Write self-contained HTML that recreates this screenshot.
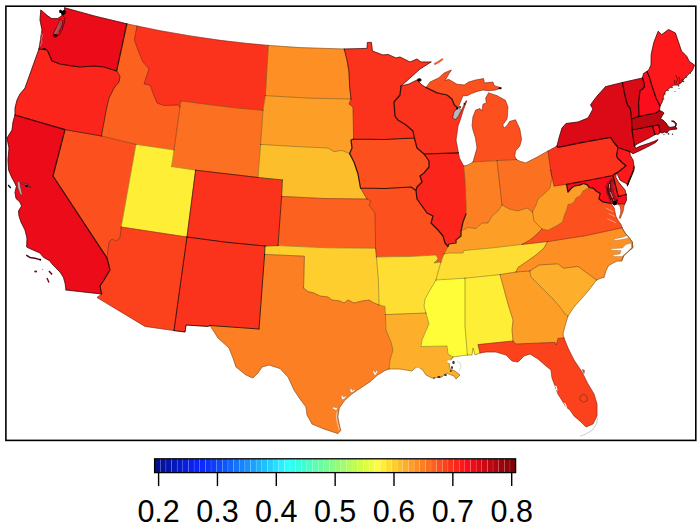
<!DOCTYPE html><html><head><meta charset="utf-8"><style>html,body{margin:0;padding:0;background:#fff}svg{display:block}text{font-family:"Liberation Sans",sans-serif}</style></head><body>
<svg width="700" height="532" viewBox="0 0 700 532">
<rect width="700" height="532" fill="#fff"/>
<g stroke-linejoin="round" stroke-width="0.5">
<polygon points="39.0,49.0 40.0,43.0 41.0,36.0 42.0,30.0 40.0,20.0 40.8,9.9 47.3,15.6 51.6,18.6 57.7,18.6 60.0,17.0 62.0,15.5 64.6,14.0 64.6,7.8 96.0,16.4 126.8,23.8 116.6,71.0 104.0,67.0 94.0,66.0 80.0,67.0 70.0,65.6 60.0,64.0 52.0,61.0 49.0,54.0 47.0,50.0" fill="#ec0b19" stroke="#ec0b19"/>
<polygon points="39.0,49.0 35.0,60.0 30.0,74.0 25.0,88.0 20.0,94.0 17.0,100.0 15.0,108.0 15.0,115.0 65.0,129.6 101.4,136.0 107.0,106.0 109.0,98.0 114.0,88.0 119.0,82.0 120.0,76.0 116.6,71.0 104.0,67.0 94.0,66.0 80.0,67.0 70.0,65.6 60.0,64.0 52.0,61.0 49.0,54.0 47.0,50.0" fill="#fc251c" stroke="#fc251c"/>
<polygon points="15.0,115.0 13.0,122.0 12.0,130.0 7.0,138.0 9.0,148.0 8.0,160.0 8.6,170.0 12.0,178.0 14.3,182.0 16.4,186.4 15.0,192.5 16.0,198.5 19.9,202.0 21.6,206.0 18.5,211.0 19.0,216.0 21.0,222.0 25.0,230.0 27.0,238.0 26.7,247.0 32.0,249.5 40.0,253.0 43.5,257.3 49.6,260.7 53.0,265.0 55.6,267.7 60.0,272.0 63.4,277.2 65.1,283.2 66.0,290.0 101.6,294.0 100.0,286.0 104.0,280.0 110.0,270.0 107.0,258.0 53.0,176.0 65.0,129.6" fill="#ec0b19" stroke="#ec0b19"/>
<polygon points="65.0,129.6 101.4,136.0 136.0,144.4 121.2,227.0 120.0,238.0 116.0,241.0 112.0,239.0 109.0,242.0 107.0,258.0 53.0,176.0" fill="#fc511e" stroke="#fc511e"/>
<polygon points="126.8,23.8 137.0,26.0 134.4,40.0 138.0,50.0 143.0,62.0 149.0,69.0 146.0,78.0 144.0,84.0 150.0,85.0 153.0,93.0 157.0,103.0 164.0,105.5 178.0,105.0 180.0,107.0 174.0,150.0 136.0,144.4 101.4,136.0 107.0,106.0 109.0,98.0 114.0,88.0 119.0,82.0 120.0,76.0 116.6,71.0" fill="#fc6120" stroke="#fc6120"/>
<polygon points="137.0,26.0 160.0,30.7 190.0,35.9 220.0,40.3 245.0,43.2 268.4,45.4 265.4,95.6 263.0,110.3 240.0,108.3 220.0,106.0 181.0,101.0 180.0,107.0 178.0,105.0 164.0,105.5 157.0,103.0 153.0,93.0 150.0,85.0 144.0,84.0 146.0,78.0 149.0,69.0 143.0,62.0 138.0,50.0 134.4,40.0" fill="#fc331c" stroke="#fc331c"/>
<polygon points="181.0,101.0 220.0,106.0 240.0,108.3 263.0,110.3 260.6,144.4 258.0,177.5 195.6,170.2 171.6,166.6 174.0,150.0 180.0,107.0" fill="#fc7021" stroke="#fc7021"/>
<polygon points="136.0,144.4 174.0,150.0 171.6,166.6 195.6,170.2 187.0,237.0 121.2,227.0" fill="#feee35" stroke="#feee35"/>
<polygon points="121.2,227.0 187.0,237.0 174.0,330.6 145.0,326.4 97.0,297.5 101.6,294.0 100.0,286.0 104.0,280.0 110.0,270.0 107.0,258.0 109.0,242.0 112.0,239.0 116.0,241.0 120.0,238.0" fill="#fc421d" stroke="#fc421d"/>
<polygon points="187.0,237.0 226.0,242.2 265.0,246.0 264.6,254.4 259.0,329.0 210.0,325.5 208.0,326.4 186.0,325.0 185.0,332.0 174.0,330.6" fill="#fc331c" stroke="#fc331c"/>
<polygon points="195.6,170.2 258.0,177.5 282.4,180.0 281.6,196.4 278.0,245.6 265.0,246.0 226.0,242.2 187.0,237.0" fill="#fc331c" stroke="#fc331c"/>
<polygon points="268.4,45.4 300.0,47.6 344.2,49.0 347.0,60.0 349.0,72.0 349.6,86.0 351.0,99.0 308.0,98.1 265.4,95.6" fill="#fd8f25" stroke="#fd8f25"/>
<polygon points="265.4,95.6 308.0,98.1 351.0,99.0 349.0,104.0 353.0,107.0 353.6,139.0 351.0,140.0 352.0,148.0 349.6,153.6 342.0,150.4 334.0,151.6 328.0,148.0 295.0,146.5 260.6,144.4 263.0,110.3" fill="#fd9f27" stroke="#fd9f27"/>
<polygon points="260.6,144.4 295.0,146.5 328.0,148.0 334.0,151.6 342.0,150.4 349.6,153.6 354.0,162.0 358.0,174.0 360.5,188.0 364.0,194.0 367.0,199.0 324.0,198.5 281.6,196.4 282.4,180.0 258.0,177.5" fill="#fdbe2c" stroke="#fdbe2c"/>
<polygon points="281.6,196.4 324.0,198.5 367.0,199.0 371.0,201.0 369.0,205.0 375.0,213.0 375.6,248.2 327.0,247.8 278.0,245.6" fill="#fc6120" stroke="#fc6120"/>
<polygon points="265.0,246.0 278.0,245.6 327.0,247.8 375.6,248.2 376.4,257.0 378.4,280.0 379.0,305.0 374.0,303.0 369.0,300.0 362.0,301.0 354.0,303.0 348.0,300.0 344.0,303.0 340.0,301.0 332.0,300.0 328.0,297.0 320.0,296.0 314.0,293.0 308.0,291.6 303.6,288.0 304.4,256.2 264.6,254.4" fill="#fece2f" stroke="#fece2f"/>
<polygon points="264.6,254.4 304.4,256.2 303.6,288.0 308.0,291.6 314.0,293.0 320.0,296.0 328.0,297.0 332.0,300.0 340.0,301.0 344.0,303.0 348.0,300.0 354.0,303.0 362.0,301.0 369.0,300.0 374.0,303.0 379.0,305.0 385.0,306.4 385.4,314.6 386.0,330.0 391.0,342.0 393.0,350.0 390.0,360.0 389.0,369.0 385.0,370.5 377.6,375.0 370.0,381.8 361.0,387.8 352.0,393.8 344.5,400.6 339.3,408.0 337.8,417.0 339.3,424.6 340.8,430.6 337.8,433.6 324.0,429.0 312.0,424.0 307.0,415.0 306.0,407.0 300.0,399.0 294.0,390.0 288.0,377.0 280.0,368.5 269.0,365.0 262.0,367.0 258.0,373.0 253.0,378.0 246.0,375.0 236.0,367.0 233.0,358.0 229.0,348.0 218.0,338.0 210.0,325.5 259.0,329.0" fill="#fc8023" stroke="#fc8023"/>
<polygon points="344.2,49.0 367.0,48.4 367.4,42.4 371.4,42.4 372.4,51.0 383.0,55.0 388.0,54.4 396.0,58.0 400.0,57.0 410.0,62.0 417.0,59.0 421.0,62.0 431.0,62.0 420.0,69.0 410.0,78.0 401.0,86.0 400.0,95.0 394.0,102.0 395.0,116.0 398.0,120.0 406.0,125.0 413.0,131.0 414.4,138.0 384.0,139.5 353.6,139.0 353.0,107.0 349.0,104.0 351.0,99.0 349.6,86.0 349.0,72.0 347.0,60.0" fill="#fc331c" stroke="#fc331c"/>
<polygon points="353.6,139.0 384.0,139.5 414.4,138.0 417.0,148.0 424.0,154.0 429.0,161.0 429.0,167.0 424.0,173.0 420.0,176.0 422.0,182.0 417.0,187.0 416.0,190.5 411.0,187.0 385.0,188.5 360.5,188.0 358.0,174.0 354.0,162.0 349.6,153.6 352.0,148.0 351.0,140.0" fill="#fc511e" stroke="#fc511e"/>
<polygon points="360.5,188.0 385.0,188.5 411.0,187.0 416.0,190.5 417.0,199.0 422.0,206.0 427.0,213.0 433.0,216.0 431.0,223.0 438.0,230.0 443.0,236.0 445.0,243.0 448.0,246.5 444.0,254.0 441.0,262.0 434.0,263.0 438.0,259.0 436.0,255.0 410.0,256.5 376.4,257.0 375.6,248.2 375.0,213.0 369.0,205.0 371.0,201.0 367.0,199.0 364.0,194.0" fill="#fc511e" stroke="#fc511e"/>
<polygon points="376.4,257.0 410.0,256.5 436.0,255.0 438.0,259.0 434.0,263.0 441.0,262.0 438.0,272.0 436.0,280.0 430.0,290.0 425.0,299.0 424.0,306.0 426.0,313.0 385.4,314.6 385.0,306.4 379.0,305.0 378.4,280.0" fill="#fede32" stroke="#fede32"/>
<polygon points="385.4,314.6 426.0,313.0 429.0,324.0 425.0,333.0 422.0,340.0 421.0,346.5 447.0,346.0 448.0,354.0 453.0,357.0 449.0,363.0 450.0,369.0 455.0,371.0 460.0,375.0 456.0,379.0 454.0,376.0 446.0,373.0 442.0,377.0 432.0,378.0 426.0,375.0 422.0,369.0 415.0,368.0 412.0,371.0 400.0,369.0 389.0,369.0 390.0,360.0 393.0,350.0 391.0,342.0 386.0,330.0" fill="#fdae2a" stroke="#fdae2a"/>
<polygon points="401.0,86.0 409.0,84.0 417.0,80.0 422.0,85.0 426.0,87.5 437.1,92.9 447.1,95.0 452.1,99.3 454.3,105.0 457.9,107.9 454.0,112.0 452.7,118.0 455.5,119.5 458.5,116.0 462.0,109.0 466.0,100.8 466.8,101.0 463.3,110.0 460.5,119.0 458.0,126.0 456.0,140.0 458.4,152.8 424.0,154.0 417.0,148.0 414.4,138.0 413.0,131.0 406.0,125.0 398.0,120.0 395.0,116.0 394.0,102.0 400.0,95.0" fill="#fc331c" stroke="#fc331c"/>
<polygon points="424.0,154.0 458.4,152.8 459.4,158.0 463.6,166.0 465.0,180.0 466.0,204.0 466.0,214.0 463.0,222.0 461.0,231.0 461.0,236.0 456.0,240.0 456.0,243.0 449.0,244.0 448.0,246.5 445.0,243.0 443.0,236.0 438.0,230.0 431.0,223.0 433.0,216.0 427.0,213.0 422.0,206.0 417.0,199.0 416.0,190.5 417.0,187.0 422.0,182.0 420.0,176.0 424.0,173.0 429.0,167.0 429.0,161.0" fill="#fc251c" stroke="#fc251c"/>
<polygon points="426.0,87.5 430.0,82.1 438.6,77.9 444.3,72.9 451.4,70.0 448.6,74.3 445.0,80.7 448.6,79.3 457.1,84.3 464.3,85.0 468.6,82.1 475.7,80.0 483.6,78.6 484.3,82.9 492.9,82.1 494.3,85.7 501.4,87.9 495.7,90.0 488.6,90.7 482.9,90.0 477.1,91.4 471.4,93.6 467.1,95.7 462.9,95.7 460.7,101.4 457.9,107.9 454.3,105.0 452.1,99.3 447.1,95.0 437.1,92.9" fill="#fc511e" stroke="#fc511e"/>
<polygon points="488.6,92.9 497.1,95.7 505.4,100.3 507.9,107.0 507.5,114.0 507.0,119.0 502.8,124.8 503.7,128.2 507.0,125.7 509.6,121.5 515.5,119.8 519.8,129.0 521.5,139.2 519.8,146.0 515.5,151.0 514.7,156.1 516.4,159.5 497.0,160.6 473.0,162.0 477.0,148.0 475.5,138.0 473.0,130.0 472.1,125.7 472.9,117.1 475.7,110.0 480.0,108.5 482.0,111.0 483.0,104.2 486.4,102.9 485.7,97.9" fill="#fc511e" stroke="#fc511e"/>
<polygon points="473.0,162.0 497.0,160.6 502.0,205.0 498.0,211.0 492.0,216.0 488.0,223.0 482.0,223.0 476.0,228.5 468.0,227.5 461.0,231.0 463.0,222.0 466.0,214.0 466.0,204.0 465.0,180.0 463.6,166.0 468.0,165.0" fill="#fc8023" stroke="#fc8023"/>
<polygon points="497.0,160.6 516.4,159.5 520.6,161.5 525.7,162.9 535.8,157.8 548.0,151.0 550.6,170.0 552.0,178.0 550.0,188.0 544.0,194.0 538.0,199.0 536.0,205.0 532.5,212.0 527.0,208.0 518.0,211.0 509.0,209.0 502.0,205.0" fill="#fc7021" stroke="#fc7021"/>
<polygon points="461.0,231.0 468.0,227.5 476.0,228.5 482.0,223.0 488.0,223.0 492.0,216.0 498.0,211.0 502.0,205.0 509.0,209.0 518.0,211.0 527.0,208.0 532.5,212.0 534.0,221.0 539.0,226.0 542.0,229.0 536.0,235.0 530.0,240.0 522.0,244.4 493.0,247.8 464.0,250.5 463.0,253.0 449.0,253.0 444.0,254.0 448.0,246.5 449.0,244.0 456.0,243.0 456.0,240.0 461.0,236.0" fill="#fd9f27" stroke="#fd9f27"/>
<polygon points="444.0,254.0 449.0,253.0 463.0,253.0 464.0,250.5 493.0,247.8 522.0,244.4 547.4,241.6 544.0,248.0 536.0,255.0 526.0,262.0 518.0,267.5 516.0,272.0 500.0,274.6 465.0,278.2 436.0,280.0 438.0,272.0 441.0,262.0" fill="#fede32" stroke="#fede32"/>
<polygon points="436.0,280.0 465.0,278.2 465.0,326.0 467.4,355.0 460.0,356.0 453.0,357.0 448.0,354.0 447.0,346.0 421.0,346.5 422.0,340.0 425.0,333.0 429.0,324.0 426.0,313.0 424.0,306.0 425.0,299.0 430.0,290.0" fill="#fefd38" stroke="#fefd38"/>
<polygon points="465.0,278.2 500.0,274.6 508.0,304.0 513.0,320.0 512.0,330.0 513.0,341.0 478.0,344.6 480.0,353.0 475.0,355.0 473.0,348.0 472.0,355.0 467.4,355.0 465.0,326.0" fill="#feee35" stroke="#feee35"/>
<polygon points="500.0,274.6 516.0,272.0 529.8,271.0 531.0,277.0 538.0,284.0 546.0,292.0 554.0,300.0 560.0,307.0 565.0,314.0 568.0,316.0 565.0,326.0 563.0,334.0 564.0,338.0 558.0,338.4 556.4,345.0 555.0,342.4 516.0,344.0 513.0,341.0 512.0,330.0 513.0,320.0 508.0,304.0" fill="#fd9f27" stroke="#fd9f27"/>
<polygon points="513.0,341.0 516.0,344.0 555.0,342.4 556.4,345.0 558.0,338.4 564.0,338.0 568.0,348.0 574.0,360.0 582.0,372.0 588.0,384.0 594.0,394.0 597.0,404.0 597.0,416.0 593.0,424.0 586.0,427.0 581.0,422.0 574.0,416.0 570.0,410.0 566.0,407.0 563.0,402.0 558.0,394.0 555.0,386.0 552.0,378.0 551.0,370.0 546.0,366.0 538.0,359.0 530.0,354.0 524.0,356.0 518.0,362.0 512.0,361.0 506.0,355.0 496.0,352.0 486.0,352.0 480.0,353.0 478.0,344.6" fill="#fc421d" stroke="#fc421d"/>
<polygon points="596.5,280.0 578.0,266.4 563.5,268.2 558.0,263.8 539.0,265.0 536.0,267.0 529.8,271.0 531.0,277.0 538.0,284.0 546.0,292.0 554.0,300.0 560.0,307.0 565.0,314.0 568.0,316.0 574.0,307.0 582.0,298.0 589.0,290.0" fill="#fdae2a" stroke="#fdae2a"/>
<polygon points="547.4,241.6 544.0,248.0 536.0,255.0 526.0,262.0 518.0,267.5 516.0,272.0 529.8,271.0 536.0,267.0 539.0,265.0 558.0,263.8 563.5,268.2 578.0,266.4 596.5,280.0 601.3,278.0 604.1,277.4 605.8,271.2 608.6,265.6 612.6,263.3 617.1,261.1 621.6,261.1 623.8,255.5 628.3,251.5 632.9,247.6 632.3,241.9 628.9,237.4 625.0,232.9 622.1,227.8 585.0,235.8" fill="#fd8f25" stroke="#fd8f25"/>
<polygon points="593.3,188.1 590.0,188.5 587.0,188.7 583.0,191.0 580.6,195.6 576.0,198.0 574.0,202.0 571.0,204.0 568.0,204.5 567.0,209.0 564.3,215.5 562.5,222.0 557.0,225.5 548.0,230.3 542.0,229.0 536.0,235.0 530.0,240.0 522.0,244.4 547.4,241.6 585.0,235.8 622.1,227.8 621.0,224.4 618.5,221.0 616.0,216.6 615.0,212.3 614.2,208.0 611.0,203.5 603.0,201.9 599.0,199.0 600.1,193.3 596.7,191.5" fill="#fc511e" stroke="#fc511e"/>
<polygon points="550.6,170.0 552.0,178.0 550.0,188.0 544.0,194.0 538.0,199.0 536.0,205.0 532.5,212.0 534.0,221.0 539.0,226.0 542.0,229.0 548.0,230.3 557.0,225.5 562.5,222.0 564.3,215.5 567.0,209.0 568.0,204.5 571.0,204.0 574.0,202.0 576.0,198.0 580.6,195.6 583.0,191.0 587.0,188.7 590.0,188.5 593.3,188.1 589.2,187.5 587.0,184.7 583.5,183.5 579.5,185.2 574.9,185.8 571.5,188.1 568.0,192.1 566.5,184.4 554.0,186.0" fill="#fd9f27" stroke="#fd9f27"/>
<polygon points="548.0,151.0 557.0,146.0 558.0,147.4 584.0,142.2 610.6,137.3 613.5,142.0 618.0,147.5 616.6,155.0 617.5,158.0 622.5,163.0 626.0,165.5 622.5,168.6 619.0,171.5 615.9,173.4 614.5,173.8 613.0,175.5 590.0,180.0 566.5,184.4 554.0,186.0 550.6,170.0" fill="#fc331c" stroke="#fc331c"/>
<polygon points="557.0,146.0 559.0,138.0 562.0,128.0 566.0,123.5 578.0,122.0 588.0,118.0 593.0,109.0 590.5,105.0 594.0,100.0 598.0,95.0 605.5,86.7 622.5,82.5 624.0,91.0 626.0,100.0 627.5,105.0 630.0,108.0 631.0,113.0 631.5,119.0 632.0,130.0 634.5,146.0 636.0,148.3 640.0,146.3 649.0,143.3 655.0,141.0 658.0,139.5 656.0,142.3 650.0,145.5 640.0,150.5 633.0,153.7 630.0,151.6 618.0,147.5 613.5,142.0 610.6,137.3 584.0,142.2 558.0,147.4" fill="#dc0a16" stroke="#dc0a16"/>
<polygon points="618.0,147.5 630.0,151.6 630.0,155.0 633.0,160.0 634.0,166.0 633.6,170.1 631.6,175.1 629.1,180.9 627.4,185.9 627.0,183.8 623.3,182.1 620.0,180.1 617.5,174.3 615.9,173.4 619.0,171.5 622.5,168.6 626.0,165.5 622.5,163.0 617.5,158.0 616.6,155.0" fill="#fc181b" stroke="#fc181b"/>
<polygon points="613.0,175.5 614.5,173.8 615.9,173.4 615.9,177.6 618.3,181.7 620.8,185.0 625.0,190.0 626.2,194.5 618.3,196.6" fill="#fc331c" stroke="#fc331c"/>
<polygon points="566.5,184.4 590.0,180.0 613.0,175.5 618.3,196.6 626.2,194.5 626.5,200.1 624.5,204.3 618.0,204.1 616.5,199.0 613.5,193.3 612.5,186.4 613.3,179.5 612.2,178.3 608.5,181.2 606.0,186.4 606.5,192.1 609.0,198.0 611.0,203.5 603.0,201.9 599.0,199.0 600.1,193.3 596.7,191.5 593.3,188.1 589.2,187.5 587.0,184.7 583.5,183.5 579.5,185.2 574.9,185.8 571.5,188.1 568.0,192.1" fill="#fc0d1b" stroke="#fc0d1b"/>
<polygon points="632.0,130.0 652.5,126.0 655.0,134.5 649.0,138.0 643.0,141.0 637.0,144.0 634.5,146.0" fill="#dc0a16" stroke="#dc0a16"/>
<polygon points="652.5,126.0 658.5,125.0 659.5,128.5 660.0,132.0 659.0,134.0 655.0,134.5" fill="#fc0d1b" stroke="#fc0d1b"/>
<polygon points="631.5,119.0 639.0,116.3 656.0,113.0 659.5,110.5 662.0,111.5 664.0,113.0 662.0,116.0 660.5,119.0 663.0,120.0 666.0,123.0 668.0,126.0 670.0,127.5 673.0,127.0 676.0,126.0 676.5,123.5 674.0,121.0 671.5,121.0 674.0,122.0 675.5,124.0 675.5,126.5 677.0,129.0 672.0,129.5 669.0,130.0 667.0,133.0 664.5,132.0 662.0,133.0 660.0,132.0 659.5,128.5 658.5,125.0 652.5,126.0 632.0,130.0" fill="#bd0711" stroke="#bd0711"/>
<polygon points="622.5,82.5 642.5,78.0 644.0,83.0 644.5,86.5 642.0,89.5 640.0,90.5 639.5,95.0 638.5,103.0 639.0,116.3 631.5,119.0 631.0,113.0 630.0,108.0 627.5,105.0 626.0,100.0 624.0,91.0" fill="#dc0a16" stroke="#dc0a16"/>
<polygon points="642.5,78.0 643.5,73.5 647.0,71.5 649.0,76.0 652.0,86.0 656.0,98.0 659.0,104.0 660.0,106.0 659.5,110.5 656.0,113.0 639.0,116.3 638.5,103.0 639.5,95.0 640.0,90.5 642.0,89.5 644.5,86.5 644.0,83.0" fill="#fc0d1b" stroke="#fc0d1b"/>
<polygon points="647.0,71.5 649.0,69.5 651.0,65.0 651.2,54.6 653.8,42.5 658.2,31.2 661.6,34.7 668.5,29.5 675.4,33.0 681.5,51.1 686.7,56.3 689.3,61.5 694.5,65.0 692.4,70.5 688.2,74.6 684.1,78.8 681.0,82.9 676.9,85.0 673.8,85.0 669.6,88.0 665.5,91.2 663.4,96.3 662.4,101.5 660.0,106.0 659.0,104.0 656.0,98.0 652.0,86.0 649.0,76.0" fill="#fc181b" stroke="#fc181b"/>
</g>
<g fill="none" stroke="#000" stroke-linejoin="round" stroke-linecap="round">
<path d="M126.8,23.8 L137.0,26.0 M137.0,26.0 L160.0,30.7 L190.0,35.9 L220.0,40.3 L245.0,43.2 L268.4,45.4 M268.4,45.4 L300.0,47.6 L344.2,49.0 M101.4,136.0 L136.0,144.4 M136.0,144.4 L174.0,150.0 M174.0,150.0 L180.0,107.0 M137.0,26.0 L134.4,40.0 L138.0,50.0 L143.0,62.0 L149.0,69.0 L146.0,78.0 L144.0,84.0 L150.0,85.0 L153.0,93.0 L157.0,103.0 L164.0,105.5 L178.0,105.0 L180.0,107.0 M180.0,107.0 L181.0,101.0 M181.0,101.0 L220.0,106.0 L240.0,108.3 L263.0,110.3 M268.4,45.4 L265.4,95.6 M265.4,95.6 L263.0,110.3 M265.4,95.6 L308.0,98.1 L351.0,99.0 M263.0,110.3 L260.6,144.4 M260.6,144.4 L258.0,177.5 M195.6,170.2 L171.6,166.6 M171.6,166.6 L174.0,150.0 M136.0,144.4 L121.2,227.0 M107.0,258.0 L109.0,242.0 L112.0,239.0 L116.0,241.0 L120.0,238.0 L121.2,227.0 M121.2,227.0 L187.0,237.0 M101.6,294.0 L97.0,297.5 L145.0,326.4 L174.0,330.6 M281.6,196.4 L324.0,198.5 L367.0,199.0 M278.0,245.6 L327.0,247.8 L375.6,248.2 M264.6,254.4 L304.4,256.2 L303.6,288.0 M303.6,288.0 L308.0,291.6 L314.0,293.0 L320.0,296.0 L328.0,297.0 L332.0,300.0 L340.0,301.0 L344.0,303.0 L348.0,300.0 L354.0,303.0 L362.0,301.0 L369.0,300.0 L374.0,303.0 L379.0,305.0 M379.0,305.0 L378.4,280.0 L376.4,257.0 M376.4,257.0 L375.6,248.2 M375.6,248.2 L375.0,213.0 L369.0,205.0 L371.0,201.0 L367.0,199.0 M367.0,199.0 L364.0,194.0 L360.5,188.0 M349.6,153.6 L342.0,150.4 L334.0,151.6 L328.0,148.0 L295.0,146.5 L260.6,144.4 M353.6,139.0 L353.0,107.0 L349.0,104.0 L351.0,99.0 M376.4,257.0 L410.0,256.5 L436.0,255.0 L438.0,259.0 L434.0,263.0 L441.0,262.0 M441.0,262.0 L444.0,254.0 M444.0,254.0 L448.0,246.5 M444.0,254.0 L449.0,253.0 L463.0,253.0 L464.0,250.5 L493.0,247.8 L522.0,244.4 M461.0,231.0 L468.0,227.5 L476.0,228.5 L482.0,223.0 L488.0,223.0 L492.0,216.0 L498.0,211.0 L502.0,205.0 M502.0,205.0 L509.0,209.0 L518.0,211.0 L527.0,208.0 L532.5,212.0 M502.0,205.0 L497.0,160.6 M497.0,160.6 L473.0,162.0 M473.0,162.0 L468.0,165.0 L463.6,166.0 M463.6,166.0 L459.4,158.0 L458.4,152.8 M458.4,152.8 L456.0,140.0 L458.0,126.0 L460.5,119.0 L463.3,110.0 L466.8,101.0 L466.0,100.8 L462.0,109.0 L458.5,116.0 L455.5,119.5 L452.7,118.0 L454.0,112.0 L457.9,107.9 M426.0,87.5 L430.0,82.1 L438.6,77.9 L444.3,72.9 L451.4,70.0 L448.6,74.3 L445.0,80.7 L448.6,79.3 L457.1,84.3 L464.3,85.0 L468.6,82.1 L475.7,80.0 L483.6,78.6 L484.3,82.9 L492.9,82.1 L494.3,85.7 L501.4,87.9 L495.7,90.0 L488.6,90.7 L482.9,90.0 L477.1,91.4 L471.4,93.6 L467.1,95.7 L462.9,95.7 L460.7,101.4 L457.9,107.9 M488.6,92.9 L497.1,95.7 L505.4,100.3 L507.9,107.0 L507.5,114.0 L507.0,119.0 L502.8,124.8 L503.7,128.2 L507.0,125.7 L509.6,121.5 L515.5,119.8 L519.8,129.0 L521.5,139.2 L519.8,146.0 L515.5,151.0 L514.7,156.1 L516.4,159.5 M516.4,159.5 L497.0,160.6 M473.0,162.0 L477.0,148.0 L475.5,138.0 L473.0,130.0 L472.1,125.7 L472.9,117.1 L475.7,110.0 L480.0,108.5 L482.0,111.0 L483.0,104.2 L486.4,102.9 L485.7,97.9 L488.6,92.9 M516.4,159.5 L520.6,161.5 L525.7,162.9 L535.8,157.8 L548.0,151.0 M548.0,151.0 L557.0,146.0 M548.0,151.0 L550.6,170.0 M550.6,170.0 L554.0,186.0 M554.0,186.0 L566.5,184.4 M550.6,170.0 L552.0,178.0 L550.0,188.0 L544.0,194.0 L538.0,199.0 L536.0,205.0 L532.5,212.0 M532.5,212.0 L534.0,221.0 L539.0,226.0 L542.0,229.0 M542.0,229.0 L548.0,230.3 L557.0,225.5 L562.5,222.0 L564.3,215.5 L567.0,209.0 L568.0,204.5 L571.0,204.0 L574.0,202.0 L576.0,198.0 L580.6,195.6 L583.0,191.0 L587.0,188.7 L590.0,188.5 L593.3,188.1 M542.0,229.0 L536.0,235.0 L530.0,240.0 L522.0,244.4 M522.0,244.4 L547.4,241.6 M547.4,241.6 L585.0,235.8 L622.1,227.8 M622.1,227.8 L621.0,224.4 L618.5,221.0 L616.0,216.6 L615.0,212.3 L614.2,208.0 L611.0,203.5 M547.4,241.6 L544.0,248.0 L536.0,255.0 L526.0,262.0 L518.0,267.5 L516.0,272.0 M516.0,272.0 L529.8,271.0 M529.8,271.0 L536.0,267.0 L539.0,265.0 L558.0,263.8 L563.5,268.2 L578.0,266.4 L596.5,280.0 M596.5,280.0 L601.3,278.0 L604.1,277.4 L605.8,271.2 L608.6,265.6 L612.6,263.3 L617.1,261.1 L621.6,261.1 L623.8,255.5 L628.3,251.5 L632.9,247.6 L632.3,241.9 L628.9,237.4 L625.0,232.9 L622.1,227.8 M529.8,271.0 L531.0,277.0 L538.0,284.0 L546.0,292.0 L554.0,300.0 L560.0,307.0 L565.0,314.0 L568.0,316.0 M568.0,316.0 L574.0,307.0 L582.0,298.0 L589.0,290.0 L596.5,280.0 M500.0,274.6 L516.0,272.0 M500.0,274.6 L508.0,304.0 L513.0,320.0 L512.0,330.0 L513.0,341.0 M513.0,341.0 L516.0,344.0 L555.0,342.4 L556.4,345.0 L558.0,338.4 L564.0,338.0 M564.0,338.0 L563.0,334.0 L565.0,326.0 L568.0,316.0 M465.0,278.2 L500.0,274.6 M465.0,278.2 L465.0,326.0 L467.4,355.0 M513.0,341.0 L478.0,344.6 L480.0,353.0 M480.0,353.0 L475.0,355.0 L473.0,348.0 L472.0,355.0 L467.4,355.0 M436.0,280.0 L465.0,278.2 M436.0,280.0 L430.0,290.0 L425.0,299.0 L424.0,306.0 L426.0,313.0 M426.0,313.0 L429.0,324.0 L425.0,333.0 L422.0,340.0 L421.0,346.5 L447.0,346.0 L448.0,354.0 L453.0,357.0 M453.0,357.0 L460.0,356.0 L467.4,355.0 M385.4,314.6 L426.0,313.0 M379.0,305.0 L385.0,306.4 L385.4,314.6 M441.0,262.0 L438.0,272.0 L436.0,280.0 M385.4,314.6 L386.0,330.0 L391.0,342.0 L393.0,350.0 L390.0,360.0 L389.0,369.0 M389.0,369.0 L400.0,369.0 L412.0,371.0 L415.0,368.0 L422.0,369.0 L426.0,375.0 L432.0,378.0 L442.0,377.0 L446.0,373.0 L454.0,376.0 L456.0,379.0 L460.0,375.0 L455.0,371.0 L450.0,369.0 L449.0,363.0 L453.0,357.0 M389.0,369.0 L385.0,370.5 L377.6,375.0 L370.0,381.8 L361.0,387.8 L352.0,393.8 L344.5,400.6 L339.3,408.0 L337.8,417.0 L339.3,424.6 L340.8,430.6 L337.8,433.6 M337.8,433.6 L324.0,429.0 L312.0,424.0 L307.0,415.0 L306.0,407.0 L300.0,399.0 L294.0,390.0 L288.0,377.0 L280.0,368.5 L269.0,365.0 L262.0,367.0 L258.0,373.0 L253.0,378.0 L246.0,375.0 L236.0,367.0 L233.0,358.0 L229.0,348.0 L218.0,338.0 L210.0,325.5 M564.0,338.0 L568.0,348.0 L574.0,360.0 L582.0,372.0 L588.0,384.0 L594.0,394.0 L597.0,404.0 L597.0,416.0 L593.0,424.0 L586.0,427.0 L581.0,422.0 L574.0,416.0 L570.0,410.0 L566.0,407.0 L563.0,402.0 L558.0,394.0 L555.0,386.0 L552.0,378.0 L551.0,370.0 L546.0,366.0 L538.0,359.0 L530.0,354.0 L524.0,356.0 L518.0,362.0 L512.0,361.0 L506.0,355.0 L496.0,352.0 L486.0,352.0 L480.0,353.0 M466,214 L466,204 L465,180 L463.6,166" stroke-width="0.55" stroke-opacity="0.55"/>
<path d="" stroke-width="0.70" stroke-opacity="0.60"/>
<path d="M39.0,49.0 L35.0,60.0 L30.0,74.0 L25.0,88.0 L20.0,94.0 L17.0,100.0 L15.0,108.0 L15.0,115.0 M116.6,71.0 L120.0,76.0 L119.0,82.0 L114.0,88.0 L109.0,98.0 L107.0,106.0 L101.4,136.0 M65.0,129.6 L101.4,136.0 M258.0,177.5 L195.6,170.2 M187.0,237.0 L195.6,170.2 M265.0,246.0 L278.0,245.6 M278.0,245.6 L281.6,196.4 M281.6,196.4 L282.4,180.0 M282.4,180.0 L258.0,177.5 M351.0,99.0 L349.6,86.0 L349.0,72.0 L347.0,60.0 L344.2,49.0" stroke-width="0.85" stroke-opacity="0.70"/>
<path d="M39.0,49.0 L40.0,43.0 L41.0,36.0 L42.0,30.0 L40.0,20.0 L40.8,9.9 L47.3,15.6 L51.6,18.6 L57.7,18.6 L60.0,17.0 L62.0,15.5 L64.6,14.0 L64.6,7.8 M64.6,7.8 L96.0,16.4 L126.8,23.8 M15.0,115.0 L13.0,122.0 L12.0,130.0 L7.0,138.0 L9.0,148.0 L8.0,160.0 L8.6,170.0 L12.0,178.0 L14.3,182.0 L16.4,186.4 L15.0,192.5 L16.0,198.5 L19.9,202.0 L21.6,206.0 L18.5,211.0 L19.0,216.0 L21.0,222.0 L25.0,230.0 L27.0,238.0 L26.7,247.0 L32.0,249.5 L40.0,253.0 L43.5,257.3 L49.6,260.7 L53.0,265.0 L55.6,267.7 L60.0,272.0 L63.4,277.2 L65.1,283.2 L66.0,290.0 M66.0,290.0 L101.6,294.0 M344.2,49.0 L367.0,48.4 L367.4,42.4 L371.4,42.4 L372.4,51.0 L383.0,55.0 L388.0,54.4 L396.0,58.0 L400.0,57.0 L410.0,62.0 L417.0,59.0 L421.0,62.0 L431.0,62.0 M431.0,62.0 L420.0,69.0 L410.0,78.0 L401.0,86.0 M426.0,87.5 L422.0,85.0 L417.0,80.0 L409.0,84.0 L401.0,86.0 M557.0,146.0 L559.0,138.0 L562.0,128.0 L566.0,123.5 L578.0,122.0 L588.0,118.0 L593.0,109.0 L590.5,105.0 L594.0,100.0 L598.0,95.0 L605.5,86.7 M605.5,86.7 L622.5,82.5 M615.9,173.4 L617.5,174.3 L620.0,180.1 L623.3,182.1 L627.0,183.8 L627.4,185.9 M627.4,185.9 L629.1,180.9 L631.6,175.1 L633.6,170.1 L634.0,166.0 L633.0,160.0 L630.0,155.0 L630.0,151.6 M630.0,151.6 L633.0,153.7 L640.0,150.5 L650.0,145.5 L656.0,142.3 L658.0,139.5 L655.0,141.0 L649.0,143.3 L640.0,146.3 L636.0,148.3 L634.5,146.0 M622.5,82.5 L642.5,78.0 M642.5,78.0 L643.5,73.5 L647.0,71.5 M660.0,106.0 L659.5,110.5 M647.0,71.5 L649.0,69.5 L651.0,65.0 L651.2,54.6 L653.8,42.5 L658.2,31.2 L661.6,34.7 L668.5,29.5 L675.4,33.0 L681.5,51.1 L686.7,56.3 L689.3,61.5 L694.5,65.0 L692.4,70.5 L688.2,74.6 L684.1,78.8 L681.0,82.9 L676.9,85.0 L673.8,85.0 L669.6,88.0 L665.5,91.2 L663.4,96.3 L662.4,101.5 L660.0,106.0 M659.5,110.5 L662.0,111.5 L664.0,113.0 L662.0,116.0 L660.5,119.0 L663.0,120.0 L666.0,123.0 L668.0,126.0 L670.0,127.5 L673.0,127.0 L676.0,126.0 L676.5,123.5 L674.0,121.0 L671.5,121.0 L674.0,122.0 L675.5,124.0 L675.5,126.5 L677.0,129.0 L672.0,129.5 L669.0,130.0 L667.0,133.0 L664.5,132.0 L662.0,133.0 L660.0,132.0 M655.0,134.5 L659.0,134.0 L660.0,132.0 M655.0,134.5 L649.0,138.0 L643.0,141.0 L637.0,144.0 L634.5,146.0 M615.9,173.4 L615.9,177.6 L618.3,181.7 L620.8,185.0 L625.0,190.0 L626.2,194.5 M611.0,203.5 L609.0,198.0 L606.5,192.1 L606.0,186.4 L608.5,181.2 L612.2,178.3 L613.3,179.5 L612.5,186.4 L613.5,193.3 L616.5,199.0 L618.0,204.1 M618.0,204.1 L624.5,204.3 M624.5,204.3 L626.5,200.1 L626.2,194.5" stroke-width="0.90" stroke-opacity="0.62"/>
<path d="M174.0,330.6 L187.0,237.0 M174.0,330.6 L185.0,332.0 L186.0,325.0 L208.0,326.4 L210.0,325.5 M210.0,325.5 L259.0,329.0 M259.0,329.0 L264.6,254.4 M264.6,254.4 L265.0,246.0 M265.0,246.0 L226.0,242.2 L187.0,237.0" stroke-width="1.00" stroke-opacity="0.75"/>
<path d="M126.8,23.8 L116.6,71.0 M116.6,71.0 L104.0,67.0 L94.0,66.0 L80.0,67.0 L70.0,65.6 L60.0,64.0 L52.0,61.0 L49.0,54.0 L47.0,50.0 L39.0,49.0 M15.0,115.0 L65.0,129.6 M65.0,129.6 L53.0,176.0 L107.0,258.0 M101.6,294.0 L100.0,286.0 L104.0,280.0 L110.0,270.0 L107.0,258.0 M360.5,188.0 L358.0,174.0 L354.0,162.0 L349.6,153.6 M349.6,153.6 L352.0,148.0 L351.0,140.0 L353.6,139.0 M401.0,86.0 L400.0,95.0 L394.0,102.0 L395.0,116.0 L398.0,120.0 L406.0,125.0 L413.0,131.0 L414.4,138.0 M414.4,138.0 L384.0,139.5 L353.6,139.0 M360.5,188.0 L385.0,188.5 L411.0,187.0 L416.0,190.5 M414.4,138.0 L417.0,148.0 L424.0,154.0 M424.0,154.0 L429.0,161.0 L429.0,167.0 L424.0,173.0 L420.0,176.0 L422.0,182.0 L417.0,187.0 L416.0,190.5 M424.0,154.0 L458.4,152.8 M416.0,190.5 L417.0,199.0 L422.0,206.0 L427.0,213.0 L433.0,216.0 L431.0,223.0 L438.0,230.0 L443.0,236.0 L445.0,243.0 L448.0,246.5 M448.0,246.5 L449.0,244.0 L456.0,243.0 L456.0,240.0 L461.0,236.0 L461.0,231.0 M457.9,107.9 L454.3,105.0 L452.1,99.3 L447.1,95.0 L437.1,92.9 L426.0,87.5 M557.0,146.0 L558.0,147.4 L584.0,142.2 L610.6,137.3 L613.5,142.0 L618.0,147.5 M566.5,184.4 L590.0,180.0 L613.0,175.5 M613.0,175.5 L614.5,173.8 L615.9,173.4 M615.9,173.4 L619.0,171.5 L622.5,168.6 L626.0,165.5 L622.5,163.0 L617.5,158.0 L616.6,155.0 L618.0,147.5 M618.0,147.5 L630.0,151.6 M634.5,146.0 L632.0,130.0 M632.0,130.0 L631.5,119.0 M631.5,119.0 L631.0,113.0 L630.0,108.0 L627.5,105.0 L626.0,100.0 L624.0,91.0 L622.5,82.5 M642.5,78.0 L644.0,83.0 L644.5,86.5 L642.0,89.5 L640.0,90.5 L639.5,95.0 L638.5,103.0 L639.0,116.3 M639.0,116.3 L631.5,119.0 M647.0,71.5 L649.0,76.0 L652.0,86.0 L656.0,98.0 L659.0,104.0 L660.0,106.0 M659.5,110.5 L656.0,113.0 L639.0,116.3 M660.0,132.0 L659.5,128.5 L658.5,125.0 L652.5,126.0 M652.5,126.0 L632.0,130.0 M652.5,126.0 L655.0,134.5 M613.0,175.5 L618.3,196.6 L626.2,194.5 M566.5,184.4 L568.0,192.1 L571.5,188.1 L574.9,185.8 L579.5,185.2 L583.5,183.5 L587.0,184.7 L589.2,187.5 L593.3,188.1 M593.3,188.1 L596.7,191.5 L600.1,193.3 L599.0,199.0 L603.0,201.9 L611.0,203.5 M461,231 L463,222 L466,214" stroke-width="1.25" stroke-opacity="0.80"/>
</g>
<g id="extras">
<!-- VA eastern shore -->
<polygon points="618,204.1 624.5,204.3 623.3,211 620.3,218.6 619.2,218 620.8,211 620,206.5" fill="#FC5520" stroke="#2a1a10" stroke-opacity="0.7" stroke-width="0.5"/>
<!-- Chesapeake bay mottling -->
<polygon points="611,203.5 609,198 606.5,192.1 606,186.4 608.5,181.2 612.2,178.3 613.3,179.5 612.5,186.4 613.5,193.3 616.5,199 618,204.1 615,205.5" fill="#a81420"/>
<path d="M611.5,180 L608.5,185 L608,190 L610,195 L612,199 L613.5,203 M610,183 L610.5,189 L612,196 L615,201 M607,187 L608,193 L611,200" fill="none" stroke="#100000" stroke-width="0.8" stroke-opacity="0.75"/>
<path d="M609.5,184 L609.5,188 M610.5,192 L612.5,198 M613.5,199.5 L615,203" fill="none" stroke="#c8c8c8" stroke-width="0.9" stroke-opacity="0.8"/>
<ellipse cx="614.8" cy="203" rx="2.2" ry="2.4" fill="#0a0000"/>
<circle cx="617" cy="200.5" r="0.9" fill="#1a0000"/>
<path d="M615.5,205 L616.8,209 L619.5,215" stroke="#fff" stroke-width="1.6" fill="none"/>
<path d="M634,166.5 L633.6,170.1 L631.6,175.1 L629.1,180.9 L627.6,185" stroke="#000" stroke-width="1.5" stroke-opacity="0.85" fill="none"/>
<!-- NC sounds -->
<polygon points="627.5,235.5 622,237.5 614,239 614.5,240.5 622,239.5 628.5,238" fill="#fff" stroke="#7a5a30" stroke-width="0.3"/>
<polygon points="631,243 626,244.5 622.5,248 611,248.8 611.5,250.3 621,250.5 620,254 613,255 613.5,256.5 622,256.5 627,252.5 631.5,247.5" fill="#fff" stroke="#7a5a30" stroke-width="0.3"/>
<path d="M622.1,227.8 L625,232.9 L628.9,237.4 L632.3,241.9 L632.9,247.6 L628.3,251.5 L623.8,255.5 L621.6,261.1" fill="none" stroke="#6a4a20" stroke-width="0.7" stroke-opacity="0.9"/>
<!-- VA river inlets -->
<path d="M613.3,211.9 L606,208 M615.1,216.6 L608.6,213.6 M615.9,222.7 L607.3,218.8" stroke="#fff" stroke-width="0.6" stroke-opacity="0.7" fill="none"/>
<!-- Puget sound -->
<path d="M60,19 L58,25 L54.5,31 L52.8,36 L55.5,37.5 L59,35 L62,30 L64,24 L65,18 L63,16 M61,21 L60,27 L57,33 L55,36 M63,20 L62,26 L59,32" fill="none" stroke="#200808" stroke-width="0.8" stroke-opacity="0.8"/>
<path d="M59.5,21 L57,27 L54,33 L55,36 L58,33 L61,27 L62.5,21 Z" fill="#9a9a9a" fill-opacity="0.45"/>
<path d="M59,10.5 L61,9.5 L62,11 L64,9.8 L66,11 L65.5,13.5 L63.5,15.5 L61.5,15 L61,13 L59.5,13 Z" fill="#0d0000"/>
<ellipse cx="55.5" cy="35.3" rx="2.2" ry="1.4" fill="#1a0505" fill-opacity="0.9"/>
<path d="M41,33 L42.5,36 L41,39 L42,42 L40,46" fill="none" stroke="#999" stroke-width="1.2" stroke-opacity="0.7"/>
<ellipse cx="44" cy="49" rx="1.8" ry="1" fill="#0d0000"/>
<!-- SF bay -->
<polygon points="17.3,182 19.6,181.5 20.2,186 22.2,194.5 20.6,195 18,188" fill="#b5b5b5" stroke="#402020" stroke-width="0.4"/>
<path d="M20,183 L24,184.5 L27,186 L31,187.5 L29,184.8 L25,183.5 L21,182" fill="#d0404a" stroke="#301010" stroke-width="0.5"/>
<ellipse cx="26.8" cy="186" rx="1.6" ry="1" fill="#100000"/>
<path d="M8.2,185 L10.8,188" stroke="#100000" stroke-width="1.3"/>
<!-- Channel islands -->
<path d="M26.2,255.1 L30,257.5 L35,258.3 L40.9,259.9" stroke="#5a0a10" stroke-width="1.5" fill="none"/>
<circle cx="40.3" cy="259.7" r="0.9" fill="#100"/>
<ellipse cx="35.7" cy="271.5" rx="1.5" ry="1" fill="#7a1018"/>
<circle cx="42.7" cy="269.4" r="0.7" fill="#999"/>
<path d="M49,271 L52,274.5" stroke="#6a0a12" stroke-width="1.6"/>
<path d="M47,278 L49,282.5" stroke="#6a0a12" stroke-width="1.4"/>
<!-- Green bay -->
<polygon points="452.7,118 454,112 457.9,107.9 460,108.8 461.5,110 458.5,116 455.5,119.5" fill="#b8b8b8" stroke="#301010" stroke-width="0.5"/>
<circle cx="457" cy="108.5" r="1" fill="#100"/><circle cx="460" cy="107" r="0.9" fill="#100"/><circle cx="464.4" cy="103.8" r="0.9" fill="#100"/>
<!-- Isle Royale -->
<path d="M434.3,64.3 L438.5,62 L442.9,58.9" stroke="#301010" stroke-width="2.2" stroke-opacity="0.25" fill="none"/>
<path d="M434.3,64.3 L438.5,62 L442.9,58.9" stroke="#FC5520" stroke-width="1.6" fill="none"/>
<!-- Apostle, Drummond -->
<ellipse cx="419.3" cy="80" rx="2.3" ry="1.8" fill="#0d0000"/>
<ellipse cx="500" cy="88.3" rx="1.6" ry="1" fill="#100"/>
<!-- TX bays -->
<g fill="#fff" stroke="#8a6030" stroke-width="0.3">
<polygon points="374.8,375.5 372.8,371.5 373.8,370.3 375.2,372.8 376.8,370.3 377.6,371.5 376.3,374.3"/>
<polygon points="350.5,392.5 350,389 351,388.2 352.5,390.5 355,389.3 355,390.5 352.7,392.3"/>
<polygon points="341.8,399.5 341.3,396 342.3,395 343.7,397.2 346,395.8 346.3,397 343.8,399.3"/>
<polygon points="336.5,410.5 332.5,408.5 333,407 336.5,408 338,406.5"/>
</g>
<path d="M337.2,411.5 L336.3,417 L337.8,424.5 L339.3,430" fill="none" stroke="#ddd" stroke-width="0.8"/>
<!-- Okeechobee, keys -->
<polygon points="580.3,396 583.5,394.2 587,396.3 587.3,400.5 583.5,402.3 579.8,400" fill="none" stroke="#402010" stroke-width="0.6" stroke-opacity="0.75"/>
<polygon points="554.2,385 556.8,386.5 557.6,391.5 556.2,390 555.8,387.5" fill="#fff"/>
<polygon points="563,402.5 565.5,403.5 567.5,408.5 565.5,407 565,404.8" fill="#fff"/>
<polygon points="582.3,369.5 584.5,370.5 584,373.5" fill="#FC4520" stroke="#402010" stroke-width="0.4"/>
<path d="M597.5,418 L596.5,424 L592.5,430 L586,434 L580,436.3" fill="none" stroke="#666" stroke-width="0.5" stroke-opacity="0.7"/>
<!-- LA -->
<ellipse cx="449.5" cy="361.6" rx="2.1" ry="1.5" fill="#fff"/>
<polygon points="414.5,369 417,367.8 420.5,368.5 419,371 416,370.5" fill="#fff"/>
<g fill="#151005" fill-opacity="0.85"><ellipse cx="453.5" cy="362.5" rx="1.2" ry="1.8"/><ellipse cx="452" cy="367.5" rx="1" ry="1.5"/><circle cx="450.8" cy="371" r="0.9"/><ellipse cx="445.5" cy="375" rx="1.5" ry="0.9"/><ellipse cx="439" cy="377" rx="1.6" ry="0.9"/><circle cx="434" cy="378.3" r="0.8"/></g>
<path d="M457,361 L460,363 L461,367 L459,371" fill="none" stroke="#bbb" stroke-width="0.6"/>
<!-- Maine coast mottling -->
<path d="M676,75.5 L677.5,79 L676.5,83 M679,77 L680,81 L679,84 M682,78.5 L682.5,82 M674.5,80 L675,84" fill="none" stroke="#150505" stroke-width="0.8" stroke-opacity="0.7"/>
<g fill="#150505" fill-opacity="0.8"><circle cx="690.5" cy="73" r="0.7"/><circle cx="686.5" cy="77" r="0.8"/><circle cx="683.5" cy="81.5" r="0.8"/><circle cx="678.5" cy="85.5" r="0.9"/><circle cx="672" cy="87.5" r="0.8"/><circle cx="668" cy="90.5" r="0.8"/><circle cx="665" cy="94" r="0.7"/><circle cx="663.7" cy="99" r="0.7"/><circle cx="675" cy="91.5" r="0.5"/><circle cx="679" cy="88.5" r="0.5"/></g>
<g fill="#150505" fill-opacity="0.8"><circle cx="668.5" cy="133.8" r="0.9"/><circle cx="672.5" cy="134.3" r="0.7"/><circle cx="664" cy="134.6" r="0.6"/></g>
</g>

<rect x="5.9" y="6.2" width="689.9" height="434.2" fill="none" stroke="#000" stroke-width="1.6"/>
<rect x="154.60" y="459" width="5.64" height="13.5" fill="#030f8d"/>
<rect x="160.24" y="459" width="5.64" height="13.5" fill="#04129c"/>
<rect x="165.88" y="459" width="5.64" height="13.5" fill="#0515ac"/>
<rect x="171.52" y="459" width="5.64" height="13.5" fill="#0618bc"/>
<rect x="177.16" y="459" width="5.64" height="13.5" fill="#071bcc"/>
<rect x="182.80" y="459" width="5.64" height="13.5" fill="#081edc"/>
<rect x="188.44" y="459" width="5.64" height="13.5" fill="#0921eb"/>
<rect x="194.08" y="459" width="5.64" height="13.5" fill="#0b24fb"/>
<rect x="199.72" y="459" width="5.64" height="13.5" fill="#0b2afb"/>
<rect x="205.37" y="459" width="5.64" height="13.5" fill="#0c32fb"/>
<rect x="211.01" y="459" width="5.64" height="13.5" fill="#0d3dfb"/>
<rect x="216.65" y="459" width="5.64" height="13.5" fill="#0e4afb"/>
<rect x="222.29" y="459" width="5.64" height="13.5" fill="#1057fb"/>
<rect x="227.93" y="459" width="5.64" height="13.5" fill="#1266fb"/>
<rect x="233.57" y="459" width="5.64" height="13.5" fill="#1475fc"/>
<rect x="239.21" y="459" width="5.64" height="13.5" fill="#1684fc"/>
<rect x="244.85" y="459" width="5.64" height="13.5" fill="#1892fc"/>
<rect x="250.49" y="459" width="5.64" height="13.5" fill="#1ba1fc"/>
<rect x="256.13" y="459" width="5.64" height="13.5" fill="#1eb1fc"/>
<rect x="261.77" y="459" width="5.64" height="13.5" fill="#20c0fd"/>
<rect x="267.41" y="459" width="5.64" height="13.5" fill="#23d0fd"/>
<rect x="273.05" y="459" width="5.64" height="13.5" fill="#26e0fd"/>
<rect x="278.69" y="459" width="5.64" height="13.5" fill="#29effe"/>
<rect x="284.33" y="459" width="5.64" height="13.5" fill="#2cfffe"/>
<rect x="289.98" y="459" width="5.64" height="13.5" fill="#30ffef"/>
<rect x="295.62" y="459" width="5.64" height="13.5" fill="#37fedf"/>
<rect x="301.26" y="459" width="5.64" height="13.5" fill="#41fed0"/>
<rect x="306.90" y="459" width="5.64" height="13.5" fill="#4dfec1"/>
<rect x="312.54" y="459" width="5.64" height="13.5" fill="#5afeb2"/>
<rect x="318.18" y="459" width="5.64" height="13.5" fill="#67fea3"/>
<rect x="323.82" y="459" width="5.64" height="13.5" fill="#76fe94"/>
<rect x="329.46" y="459" width="5.64" height="13.5" fill="#85fd86"/>
<rect x="335.10" y="459" width="5.64" height="13.5" fill="#93fd78"/>
<rect x="340.74" y="459" width="5.64" height="13.5" fill="#a2fd6a"/>
<rect x="346.38" y="459" width="5.64" height="13.5" fill="#b1fd5d"/>
<rect x="352.02" y="459" width="5.64" height="13.5" fill="#c0fd51"/>
<rect x="357.66" y="459" width="5.64" height="13.5" fill="#d0fd47"/>
<rect x="363.30" y="459" width="5.64" height="13.5" fill="#dffd3f"/>
<rect x="368.94" y="459" width="5.64" height="13.5" fill="#effd3a"/>
<rect x="374.58" y="459" width="5.64" height="13.5" fill="#fefd38"/>
<rect x="380.23" y="459" width="5.64" height="13.5" fill="#feee35"/>
<rect x="385.87" y="459" width="5.64" height="13.5" fill="#fede32"/>
<rect x="391.51" y="459" width="5.64" height="13.5" fill="#fece2f"/>
<rect x="397.15" y="459" width="5.64" height="13.5" fill="#fdbe2c"/>
<rect x="402.79" y="459" width="5.64" height="13.5" fill="#fdae2a"/>
<rect x="408.43" y="459" width="5.64" height="13.5" fill="#fd9f27"/>
<rect x="414.07" y="459" width="5.64" height="13.5" fill="#fd8f25"/>
<rect x="419.71" y="459" width="5.64" height="13.5" fill="#fc8023"/>
<rect x="425.35" y="459" width="5.64" height="13.5" fill="#fc7021"/>
<rect x="430.99" y="459" width="5.64" height="13.5" fill="#fc6120"/>
<rect x="436.63" y="459" width="5.64" height="13.5" fill="#fc511e"/>
<rect x="442.27" y="459" width="5.64" height="13.5" fill="#fc421d"/>
<rect x="447.91" y="459" width="5.64" height="13.5" fill="#fc331c"/>
<rect x="453.55" y="459" width="5.64" height="13.5" fill="#fc251c"/>
<rect x="459.19" y="459" width="5.64" height="13.5" fill="#fc181b"/>
<rect x="464.83" y="459" width="5.64" height="13.5" fill="#fc0d1b"/>
<rect x="470.48" y="459" width="5.64" height="13.5" fill="#ec0b19"/>
<rect x="476.12" y="459" width="5.64" height="13.5" fill="#dc0a16"/>
<rect x="481.76" y="459" width="5.64" height="13.5" fill="#cc0814"/>
<rect x="487.40" y="459" width="5.64" height="13.5" fill="#bd0711"/>
<rect x="493.04" y="459" width="5.64" height="13.5" fill="#ad060f"/>
<rect x="498.68" y="459" width="5.64" height="13.5" fill="#9d050c"/>
<rect x="504.32" y="459" width="5.64" height="13.5" fill="#8d040a"/>
<rect x="509.96" y="459" width="5.64" height="13.5" fill="#7e0308"/>
<rect x="159.99" y="459" width="0.5" height="13.5" fill="#fff" fill-opacity="0.28"/>
<rect x="165.63" y="459" width="0.5" height="13.5" fill="#fff" fill-opacity="0.28"/>
<rect x="171.27" y="459" width="0.5" height="13.5" fill="#fff" fill-opacity="0.28"/>
<rect x="176.91" y="459" width="0.5" height="13.5" fill="#fff" fill-opacity="0.28"/>
<rect x="182.55" y="459" width="0.5" height="13.5" fill="#fff" fill-opacity="0.28"/>
<rect x="188.19" y="459" width="0.5" height="13.5" fill="#fff" fill-opacity="0.28"/>
<rect x="193.83" y="459" width="0.5" height="13.5" fill="#fff" fill-opacity="0.28"/>
<rect x="199.47" y="459" width="0.5" height="13.5" fill="#fff" fill-opacity="0.28"/>
<rect x="205.12" y="459" width="0.5" height="13.5" fill="#fff" fill-opacity="0.28"/>
<rect x="210.76" y="459" width="0.5" height="13.5" fill="#fff" fill-opacity="0.28"/>
<rect x="216.40" y="459" width="0.5" height="13.5" fill="#fff" fill-opacity="0.28"/>
<rect x="222.04" y="459" width="0.5" height="13.5" fill="#fff" fill-opacity="0.28"/>
<rect x="227.68" y="459" width="0.5" height="13.5" fill="#fff" fill-opacity="0.28"/>
<rect x="233.32" y="459" width="0.5" height="13.5" fill="#fff" fill-opacity="0.28"/>
<rect x="238.96" y="459" width="0.5" height="13.5" fill="#fff" fill-opacity="0.28"/>
<rect x="244.60" y="459" width="0.5" height="13.5" fill="#fff" fill-opacity="0.28"/>
<rect x="250.24" y="459" width="0.5" height="13.5" fill="#fff" fill-opacity="0.28"/>
<rect x="255.88" y="459" width="0.5" height="13.5" fill="#fff" fill-opacity="0.28"/>
<rect x="261.52" y="459" width="0.5" height="13.5" fill="#fff" fill-opacity="0.28"/>
<rect x="267.16" y="459" width="0.5" height="13.5" fill="#fff" fill-opacity="0.28"/>
<rect x="272.80" y="459" width="0.5" height="13.5" fill="#fff" fill-opacity="0.28"/>
<rect x="278.44" y="459" width="0.5" height="13.5" fill="#fff" fill-opacity="0.28"/>
<rect x="284.08" y="459" width="0.5" height="13.5" fill="#fff" fill-opacity="0.28"/>
<rect x="289.73" y="459" width="0.5" height="13.5" fill="#fff" fill-opacity="0.28"/>
<rect x="295.37" y="459" width="0.5" height="13.5" fill="#fff" fill-opacity="0.28"/>
<rect x="301.01" y="459" width="0.5" height="13.5" fill="#fff" fill-opacity="0.28"/>
<rect x="306.65" y="459" width="0.5" height="13.5" fill="#fff" fill-opacity="0.28"/>
<rect x="312.29" y="459" width="0.5" height="13.5" fill="#fff" fill-opacity="0.28"/>
<rect x="317.93" y="459" width="0.5" height="13.5" fill="#fff" fill-opacity="0.28"/>
<rect x="323.57" y="459" width="0.5" height="13.5" fill="#fff" fill-opacity="0.28"/>
<rect x="329.21" y="459" width="0.5" height="13.5" fill="#fff" fill-opacity="0.28"/>
<rect x="334.85" y="459" width="0.5" height="13.5" fill="#fff" fill-opacity="0.28"/>
<rect x="340.49" y="459" width="0.5" height="13.5" fill="#fff" fill-opacity="0.28"/>
<rect x="346.13" y="459" width="0.5" height="13.5" fill="#fff" fill-opacity="0.28"/>
<rect x="351.77" y="459" width="0.5" height="13.5" fill="#fff" fill-opacity="0.28"/>
<rect x="357.41" y="459" width="0.5" height="13.5" fill="#fff" fill-opacity="0.28"/>
<rect x="363.05" y="459" width="0.5" height="13.5" fill="#fff" fill-opacity="0.28"/>
<rect x="368.69" y="459" width="0.5" height="13.5" fill="#fff" fill-opacity="0.28"/>
<rect x="374.33" y="459" width="0.5" height="13.5" fill="#fff" fill-opacity="0.28"/>
<rect x="379.98" y="459" width="0.5" height="13.5" fill="#fff" fill-opacity="0.28"/>
<rect x="385.62" y="459" width="0.5" height="13.5" fill="#fff" fill-opacity="0.28"/>
<rect x="391.26" y="459" width="0.5" height="13.5" fill="#fff" fill-opacity="0.28"/>
<rect x="396.90" y="459" width="0.5" height="13.5" fill="#fff" fill-opacity="0.28"/>
<rect x="402.54" y="459" width="0.5" height="13.5" fill="#fff" fill-opacity="0.28"/>
<rect x="408.18" y="459" width="0.5" height="13.5" fill="#fff" fill-opacity="0.28"/>
<rect x="413.82" y="459" width="0.5" height="13.5" fill="#fff" fill-opacity="0.28"/>
<rect x="419.46" y="459" width="0.5" height="13.5" fill="#fff" fill-opacity="0.28"/>
<rect x="425.10" y="459" width="0.5" height="13.5" fill="#fff" fill-opacity="0.28"/>
<rect x="430.74" y="459" width="0.5" height="13.5" fill="#fff" fill-opacity="0.28"/>
<rect x="436.38" y="459" width="0.5" height="13.5" fill="#fff" fill-opacity="0.28"/>
<rect x="442.02" y="459" width="0.5" height="13.5" fill="#fff" fill-opacity="0.28"/>
<rect x="447.66" y="459" width="0.5" height="13.5" fill="#fff" fill-opacity="0.28"/>
<rect x="453.30" y="459" width="0.5" height="13.5" fill="#fff" fill-opacity="0.28"/>
<rect x="458.94" y="459" width="0.5" height="13.5" fill="#fff" fill-opacity="0.28"/>
<rect x="464.58" y="459" width="0.5" height="13.5" fill="#fff" fill-opacity="0.28"/>
<rect x="470.23" y="459" width="0.5" height="13.5" fill="#fff" fill-opacity="0.28"/>
<rect x="475.87" y="459" width="0.5" height="13.5" fill="#fff" fill-opacity="0.28"/>
<rect x="481.51" y="459" width="0.5" height="13.5" fill="#fff" fill-opacity="0.28"/>
<rect x="487.15" y="459" width="0.5" height="13.5" fill="#fff" fill-opacity="0.28"/>
<rect x="492.79" y="459" width="0.5" height="13.5" fill="#fff" fill-opacity="0.28"/>
<rect x="498.43" y="459" width="0.5" height="13.5" fill="#fff" fill-opacity="0.28"/>
<rect x="504.07" y="459" width="0.5" height="13.5" fill="#fff" fill-opacity="0.28"/>
<rect x="509.71" y="459" width="0.5" height="13.5" fill="#fff" fill-opacity="0.28"/>
<rect x="154.60" y="458.8" width="361.00" height="13.8" fill="none" stroke="#000" stroke-width="1.3"/>
<line x1="158.60" y1="473" x2="158.60" y2="486" stroke="#000" stroke-width="1.4"/>
<text x="158.60" y="522.3" font-size="30.5" text-anchor="middle" fill="#000">0.2</text>
<line x1="217.45" y1="473" x2="217.45" y2="486" stroke="#000" stroke-width="1.4"/>
<text x="217.45" y="522.3" font-size="30.5" text-anchor="middle" fill="#000">0.3</text>
<line x1="276.30" y1="473" x2="276.30" y2="486" stroke="#000" stroke-width="1.4"/>
<text x="276.30" y="522.3" font-size="30.5" text-anchor="middle" fill="#000">0.4</text>
<line x1="335.15" y1="473" x2="335.15" y2="486" stroke="#000" stroke-width="1.4"/>
<text x="335.15" y="522.3" font-size="30.5" text-anchor="middle" fill="#000">0.5</text>
<line x1="394.00" y1="473" x2="394.00" y2="486" stroke="#000" stroke-width="1.4"/>
<text x="394.00" y="522.3" font-size="30.5" text-anchor="middle" fill="#000">0.6</text>
<line x1="452.85" y1="473" x2="452.85" y2="486" stroke="#000" stroke-width="1.4"/>
<text x="452.85" y="522.3" font-size="30.5" text-anchor="middle" fill="#000">0.7</text>
<line x1="511.70" y1="473" x2="511.70" y2="486" stroke="#000" stroke-width="1.4"/>
<text x="511.70" y="522.3" font-size="30.5" text-anchor="middle" fill="#000">0.8</text>
</svg></body></html>
